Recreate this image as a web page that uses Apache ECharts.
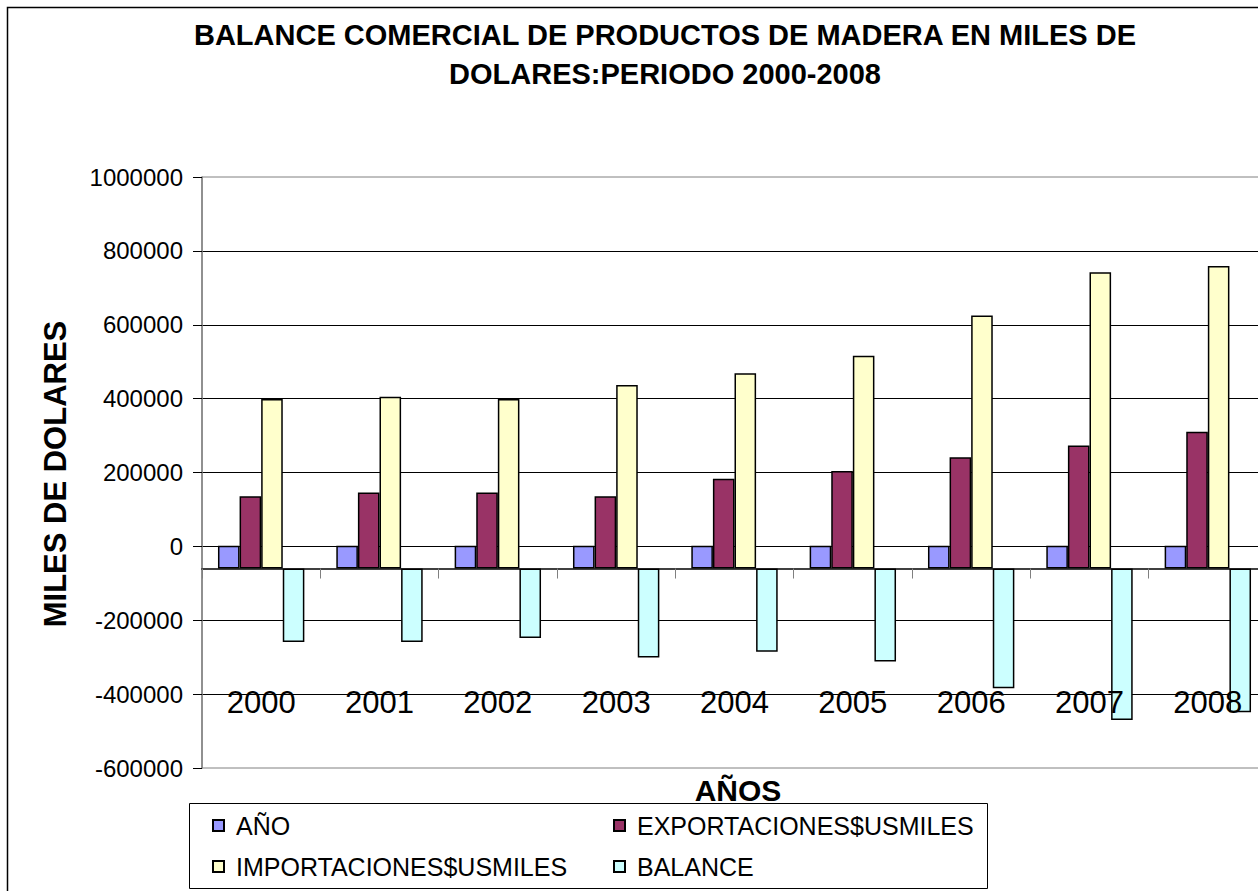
<!DOCTYPE html>
<html>
<head>
<meta charset="utf-8">
<script src="https://cdn.jsdelivr.net/npm/echarts@6/dist/echarts.min.js"></script>
<style>
  html, body { margin: 0; padding: 0; background: #ffffff; }
  #chart { width: 1258px; height: 891px; }
</style>
</head>
<body>
<div id="chart"></div>
<script>
// ---- data ----
const years = ['2000', '2001', '2002', '2003', '2004', '2005', '2006', '2007', '2008'];
const anio = [2000, 2001, 2002, 2003, 2004, 2005, 2006, 2007, 2008];
const exportaciones = [136000, 146000, 146000, 136000, 183000, 204000, 241000, 273000, 310000];
const importaciones = [399000, 405000, 399000, 437000, 469000, 516000, 625000, 742000, 759000];
const balance = [-259000, -259000, -248000, -301000, -285000, -312000, -384000, -470000, -449000];

const seriesNames = ['AÑO', 'EXPORTACIONES$USMILES', 'IMPORTACIONES$USMILES', 'BALANCE'];
const seriesColors = ['#9999FF', '#993366', '#FFFFCC', '#CCFFFF'];

const Y_MIN = -600000;
const Y_MAX = 1000000;
const Y_STEP = 200000;
const AXIS_CROSS = -60000; // value where the category axis crosses (bars grow from here)

const titleText = 'BALANCE COMERCIAL DE PRODUCTOS DE MADERA EN MILES DE\nDOLARES:PERIODO 2000-2008';
const yTitle = 'MILES DE DOLARES';
const xTitle = 'AÑOS';

const FONT = '"Liberation Sans", Arial, sans-serif';

const chart = echarts.init(document.getElementById('chart'), null, { renderer: 'svg' });

const allValues = [anio, exportaciones, importaciones, balance];

const series = allValues.map((vals, i) => ({
  name: seriesNames[i],
  type: 'bar',
  xAxisIndex: 0,
  yAxisIndex: 1,
  barGap: '0%',
  barCategoryGap: '27%',
  data: vals.map(v => v - AXIS_CROSS),
  itemStyle: { color: seriesColors[i], borderColor: '#000000', borderWidth: 1.5 },
  emphasis: { disabled: true }
}));

const legendText = { fontSize: 25, color: '#000', fontFamily: FONT, lineHeight: 24, padding: [0, 0, 0, 7] };

const option = {
  animation: false,
  backgroundColor: '#ffffff',
  textStyle: { fontFamily: FONT },
  grid: {
    left: 202, top: 177, right: -9, bottom: 123,
    show: true, borderColor: '#808080', borderWidth: 1,
    containLabel: false,
    outerBoundsMode: 'none'
  },
  legend: [
    {
      data: [seriesNames[0], seriesNames[2]],
      orient: 'vertical', left: 207, top: 808,
      itemWidth: 11, itemHeight: 11, itemGap: 16, icon: 'rect',
      textStyle: legendText,
      selectedMode: false
    },
    {
      data: [seriesNames[1], seriesNames[3]],
      orient: 'vertical', left: 608, top: 808,
      itemWidth: 11, itemHeight: 11, itemGap: 16, icon: 'rect',
      textStyle: legendText,
      selectedMode: false
    }
  ],
  xAxis: {
    type: 'category',
    data: years,
    position: 'bottom',
    offset: 0,
    z: 10,
    axisLine: { show: true, onZero: false, lineStyle: { color: '#000', width: 1.5 } },
    axisTick: { show: true, length: 10, lineStyle: { color: '#808080', width: 1 } },
    axisLabel: { fontSize: 31, color: '#000', margin: 118, fontFamily: FONT },
    splitLine: { show: false }
  },
  yAxis: [
    {
      type: 'value',
      min: Y_MIN, max: Y_MAX, interval: Y_STEP,
      axisLine: { show: true, lineStyle: { color: '#808080', width: 1.5 } },
      axisTick: { show: true, length: 9, lineStyle: { color: '#000', width: 1 } },
      axisLabel: { fontSize: 24, color: '#000', margin: 19, fontFamily: FONT, formatter: v => String(v) },
      splitLine: { show: true, showMinLine: false, showMaxLine: false, lineStyle: { color: '#000', width: 1 } }
    },
    {
      type: 'value',
      min: Y_MIN - AXIS_CROSS, max: Y_MAX - AXIS_CROSS,
      show: false,
      axisLine: { show: false }, axisTick: { show: false }, axisLabel: { show: false },
      splitLine: { show: false }
    }
  ],
  graphic: [
    {
      type: 'rect', z: -10, silent: true,
      shape: { x: 7.5, y: 7.5, width: 1400, height: 1000 },
      style: { fill: 'none', stroke: '#000', lineWidth: 1.5 }
    },
    {
      type: 'rect', z: -5, silent: true,
      shape: { x: 189.5, y: 803.5, width: 798, height: 85 },
      style: { fill: '#fff', stroke: '#000', lineWidth: 1 }
    },
    {
      type: 'text', silent: true, x: 665, y: 54,
      style: {
        text: titleText, fill: '#000',
        font: 'bold 29px ' + FONT, lineHeight: 39,
        align: 'center', verticalAlign: 'middle'
      }
    },
    {
      type: 'text', silent: true, x: 55, y: 474, rotation: Math.PI / 2,
      style: {
        text: yTitle, fill: '#000',
        font: 'bold 31px ' + FONT,
        align: 'center', verticalAlign: 'middle'
      }
    },
    {
      type: 'text', silent: true, x: 738, y: 790,
      style: {
        text: xTitle, fill: '#000',
        font: 'bold 30px ' + FONT,
        align: 'center', verticalAlign: 'middle'
      }
    }
  ],
  series: series
};

chart.setOption(option);

// move the category axis up so that it crosses the value axis at AXIS_CROSS
const yCross = chart.convertToPixel({ yAxisIndex: 0 }, AXIS_CROSS);
const yBottom = chart.convertToPixel({ yAxisIndex: 0 }, Y_MIN);
chart.setOption({ xAxis: { offset: yCross - yBottom } });
</script>
</body>
</html>
